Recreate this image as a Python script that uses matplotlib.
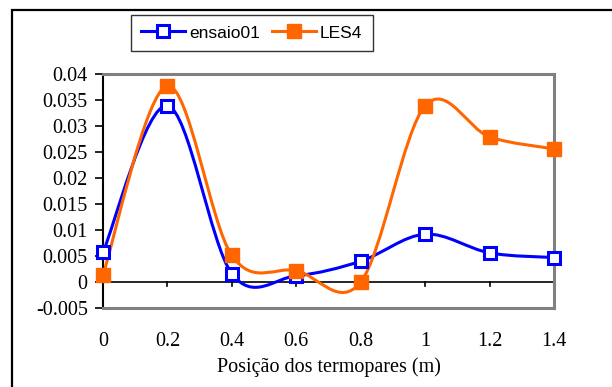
import matplotlib.pyplot as plt
import numpy as np
from matplotlib.path import Path
from matplotlib.patches import PathPatch, Rectangle
from matplotlib.lines import Line2D

posicao = [0, 0.2, 0.4, 0.6, 0.8, 1.0, 1.2, 1.4]
ensaio01 = [0.0057, 0.0339, 0.0016, 0.0012, 0.0040, 0.0092, 0.0056, 0.0047]
les4 = [0.0014, 0.0377, 0.0051, 0.0022, 0.0000, 0.0339, 0.0279, 0.0256]
yticks = [-0.005, 0, 0.005, 0.01, 0.015, 0.02, 0.025, 0.03, 0.035, 0.04]
ytick_labels = ["-0.005", "0", "0.005", "0.01", "0.015", "0.02", "0.025", "0.03", "0.035", "0.04"]
xticks = [0, 0.2, 0.4, 0.6, 0.8, 1, 1.2, 1.4]
xtick_labels = ["0", "0.2", "0.4", "0.6", "0.8", "1", "1.2", "1.4"]

AZUL = "#0000ff"
LARANJA = "#ff6600"


def curva_suave(ax, x, y, cor):
    # linha suavizada (estilo Excel): bezier cubica com tangentes de Catmull-Rom
    x = np.asarray(x, float)
    y = np.asarray(y, float)
    n = len(x)
    verts = [(x[0], y[0])]
    codes = [Path.MOVETO]
    for i in range(n - 1):
        i0 = max(i - 1, 0)
        i3 = min(i + 2, n - 1)
        c1 = (x[i] + (x[i + 1] - x[i0]) / 6, y[i] + (y[i + 1] - y[i0]) / 6)
        c2 = (x[i + 1] - (x[i3] - x[i]) / 6, y[i + 1] - (y[i3] - y[i]) / 6)
        verts += [c1, c2, (x[i + 1], y[i + 1])]
        codes += [Path.CURVE4] * 3
    ax.add_patch(PathPatch(Path(verts, codes), fill=False, edgecolor=cor, lw=2.2, zorder=3,
                           clip_on=False))


fig = plt.figure(figsize=(6.12, 3.87), dpi=100)
fig.patches.append(Rectangle((12 / 612, -0.05), 1.1, 1 - 10 / 387 + 0.05, transform=fig.transFigure,
                             fill=False, edgecolor="black", lw=1.6))

ax = fig.add_axes([103 / 612, 1 - 308 / 387, 451 / 612, 234 / 387])
curva_suave(ax, posicao, ensaio01, AZUL)
curva_suave(ax, posicao, les4, LARANJA)
ax.plot(posicao, ensaio01, ls="none", marker="s", ms=8.5, mfc="white", mec=AZUL, mew=2.2,
        zorder=6, clip_on=False)
ax.plot(posicao, les4, ls="none", marker="s", ms=10, mfc=LARANJA, mec=LARANJA, zorder=7,
        clip_on=False)

ax.set_xlim(0, 1.4)
ax.set_ylim(-0.005, 0.04)

# eixo horizontal em y = 0 com marcas para baixo
ax.axhline(0, color="black", lw=1.2, zorder=2)
for xt in xticks[1:]:
    ax.plot([xt, xt], [0, -0.0007], color="black", lw=1.2, zorder=2)

for lado in ["top", "right", "bottom"]:
    ax.spines[lado].set_color("#808080")
    ax.spines[lado].set_linewidth(2.2)
ax.spines["left"].set_color("black")
ax.spines["left"].set_linewidth(1.5)

ax.set_yticks(yticks)
ax.set_yticklabels(ytick_labels, fontsize=14.5, family="Liberation Serif")
ax.tick_params(axis="y", direction="out", length=6, width=1.2, pad=5)
ax.set_xticks(xticks)
ax.set_xticklabels(xtick_labels, fontsize=14.5, family="Liberation Serif")
ax.tick_params(axis="x", length=0, pad=17)
ax.set_xlabel("Posição dos termopares (m)", fontsize=14.5, family="Liberation Serif", labelpad=5)

handles = [
    Line2D([], [], color=AZUL, lw=2.2, marker="s", ms=8, mfc="white", mec=AZUL, mew=2.2),
    Line2D([], [], color=LARANJA, lw=2.2, marker="s", ms=9.5, mfc=LARANJA, mec=LARANJA),
]
leg = fig.legend(handles, ["ensaio01", "LES4"], loc="upper left", bbox_to_anchor=(131 / 612, 1 - 15 / 387),
                 ncol=2, frameon=True, fancybox=False, edgecolor="black", handlelength=2.5,
                 columnspacing=0.7, handletextpad=0.25, borderpad=0.6, borderaxespad=0,
                 prop={"family": "Liberation Sans", "size": 12.5})
leg.get_frame().set_linewidth(1.0)

fig.savefig("out.png", dpi=100)
